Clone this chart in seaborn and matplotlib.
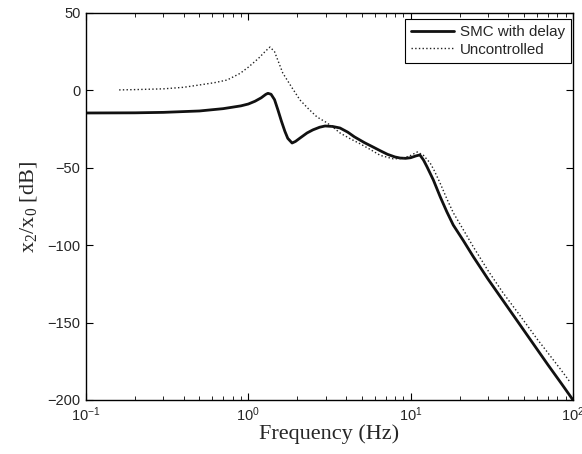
# frequency response of x2/x0: SMC with delay vs uncontrolled
import numpy as np
import pandas as pd
import seaborn as sns
import matplotlib.pyplot as plt

# SMC with delay
smc_freq = [0.1, 0.2, 0.3, 0.5, 0.7, 0.9, 1.0, 1.1, 1.2, 1.28, 1.32, 1.38, 1.45, 1.52, 1.6, 1.68,
            1.75, 1.86, 1.95, 2.1, 2.3, 2.5, 2.75, 2.97, 3.3, 3.67, 4.1, 4.5, 5.2, 5.87, 6.5,
            7.2, 8.0, 8.6, 9.3, 10.0, 10.8, 11.4, 12.0, 12.6, 13.8, 15.2, 16.7, 18.3, 21.1,
            24.3, 30.0, 37.2, 47.2, 55.7, 70.0, 85.0, 100.0]
smc_db = [-14.6, -14.5, -14.2, -13.3, -11.8, -10.0, -8.8, -7.0, -4.8, -2.6, -1.9, -2.5, -6.0,
          -12.5, -20.0, -26.5, -31.0, -34.0, -33.0, -30.5, -27.5, -25.5, -23.8, -23.0, -23.3,
          -24.3, -27.0, -30.0, -33.8, -36.6, -39.0, -41.3, -43.0, -43.7, -43.9, -43.5, -42.3,
          -41.7, -45.0, -49.3, -57.9, -68.7, -78.4, -87.0, -97.0, -107.4, -122.0, -136.0,
          -151.5, -162.3, -177.2, -189.5, -200.0]

# Uncontrolled
unc_freq = [0.16, 0.2, 0.3, 0.4, 0.5, 0.62, 0.74, 0.89, 1.0, 1.15, 1.28, 1.36, 1.45, 1.63,
            1.85, 2.08, 2.35, 2.65, 3.0, 3.3, 3.67, 4.2, 4.88, 5.6, 6.5, 7.8, 8.8, 9.8, 11.0,
            12.0, 13.2, 14.0, 15.2, 16.7, 18.3, 21.1, 24.3, 30.0, 37.2, 47.2, 60.0, 70.0,
            85.0, 96.0]
unc_db = [0.3, 0.5, 1.0, 2.0, 3.5, 5.0, 6.7, 11.0, 15.0, 20.5, 25.5, 28.0, 25.0, 11.2, 2.0,
          -6.2, -12.0, -17.2, -20.5, -23.5, -27.5, -31.0, -34.5, -38.0, -42.0, -44.2, -44.0,
          -42.5, -39.8, -42.0, -47.0, -52.0, -60.0, -70.0, -79.0, -90.0, -101.0, -116.5,
          -131.0, -145.5, -160.5, -169.5, -181.0, -188.5]

smc = pd.DataFrame({'freq': smc_freq, 'db': smc_db})
unc = pd.DataFrame({'freq': unc_freq, 'db': unc_db})

sns.set_style('ticks')
plt.rcParams['font.family'] = ['Liberation Sans', 'DejaVu Sans']
plt.rcParams['mathtext.fontset'] = 'custom'
plt.rcParams['mathtext.rm'] = 'Liberation Serif'
plt.rcParams['mathtext.it'] = 'Liberation Serif:italic'
plt.rcParams['mathtext.default'] = 'rm'

fig = plt.figure(figsize=(5.82, 4.54), dpi=100)
ax = fig.add_axes([0.1478, 0.119, 0.8367, 0.8524])
ax.set_xscale('log')

sns.lineplot(data=smc, x='freq', y='db', ax=ax, color='#111111', linewidth=2.0,
             label='SMC with delay', sort=False)
sns.lineplot(data=unc, x='freq', y='db', ax=ax, color='#222222', linewidth=1.0,
             linestyle=':', label='Uncontrolled', sort=False)

ax.set_xlim(0.1, 100)
ax.set_ylim(-200, 50)
ax.set_yticks([50, 0, -50, -100, -150, -200])
ax.set_xticks([0.1, 1, 10, 100])

ax.tick_params(which='both', direction='in', top=True, right=True, labelsize=10.5,
               color='black', pad=4)
ax.tick_params(which='major', length=5, width=0.8)
ax.tick_params(which='minor', length=3, width=0.6)
for s in ax.spines.values():
    s.set_color('black')
    s.set_linewidth(1.0)

ax.set_xlabel('Frequency (Hz)', family='Liberation Serif', fontsize=16, labelpad=0)
ax.set_ylabel(r'x$_2$/x$_0$ [dB]', family='Liberation Serif', fontsize=16, labelpad=6)

leg = ax.legend(loc='upper right', bbox_to_anchor=(0.996, 0.985), borderaxespad=0,
                fontsize=10.9, frameon=True, fancybox=False, edgecolor='black',
                framealpha=1, handlelength=2.8, borderpad=0.4, labelspacing=0.25,
                handletextpad=0.4)
leg.get_frame().set_linewidth(0.8)

fig.savefig('out.png', dpi=100)
